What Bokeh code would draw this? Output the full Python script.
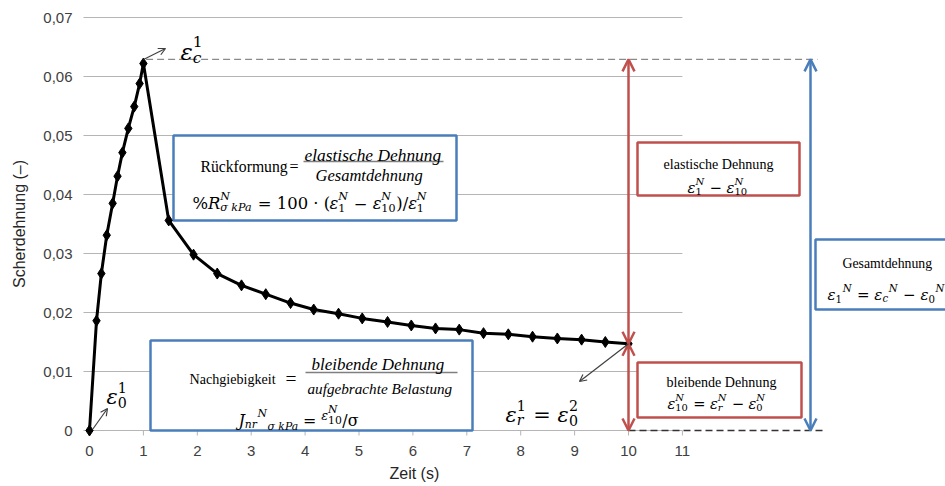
import glob, os
from bokeh.plotting import figure
from bokeh.models import (Range1d, FixedTicker, CustomJSTickFormatter, Label, Title,
                          Arrow, OpenHead, ColumnDataSource)
from bokeh.embed import file_html
from bokeh.resources import INLINE

# ---------------- data ----------------
time_load = [0, 0.13, 0.22, 0.32, 0.43, 0.52, 0.61, 0.72, 0.83, 0.93, 1.0]
strain_load = [0, 0.0186, 0.0266, 0.0331, 0.0385, 0.0431, 0.0471, 0.0512, 0.0549, 0.0588, 0.0622]
time_rec = [1.47, 1.93, 2.37, 2.82, 3.27, 3.73, 4.16, 4.62, 5.06, 5.53, 5.97,
            6.42, 6.86, 7.31, 7.77, 8.22, 8.68, 9.13, 9.57, 10.0]
strain_rec = [0.0356, 0.0298, 0.0266, 0.0246, 0.0231, 0.0216, 0.0205, 0.0198, 0.0190, 0.0184,
              0.0178, 0.0173, 0.0171, 0.0165, 0.0163, 0.0159, 0.0156, 0.0154, 0.0150, 0.0147]
x_ticks = list(range(0, 12))
y_ticks = [0, 0.01, 0.02, 0.03, 0.04, 0.05, 0.06, 0.07]
eps_c_level = 0.0629       # level of the dashed line at the creep peak
t_end = 10.0               # end of the recovery phase

times = time_load + time_rec
strains = strain_load + strain_rec
eps_10 = strains[-1]

# ---------------- geometry ----------------
W, H = 945, 486
XS, YS = 53.9, 5900.0     # px per unit
OX, OY = 89.0, 430.0      # pixel of data origin
FL, FT, FB = 81, 10, 437  # frame left / top / bottom in px

def px2x(px):
    return (px - OX) / XS

def py2y(py):
    return (OY - py) / YS

X0, X1 = px2x(FL), px2x(W)
Y0, Y1 = py2y(FB), py2y(FT)

BLUE = "#4A7EBB"
RED = "#C0504D"
GRID = "#B5B5B5"
MATH = "DejaVu Serif"
TXT = "Liberation Serif"

p = figure(width=W, height=H, output_backend="svg", toolbar_location=None,
           x_range=Range1d(X0, X1), y_range=Range1d(Y0, Y1),
           min_border_left=FL, min_border_right=0, min_border_top=FT,
           min_border_bottom=H - FB)
p.outline_line_color = None
p.xgrid.visible = False
p.ygrid.visible = False
p.background_fill_color = "white"
p.border_fill_color = "white"

# axes
p.xaxis.ticker = FixedTicker(ticks=x_ticks)
p.xaxis.axis_line_color = None
p.xaxis.major_tick_line_color = None
p.xaxis.minor_tick_line_color = None
p.xaxis.major_label_standoff = 2
p.xaxis.major_label_text_font = "Liberation Sans"
p.xaxis.major_label_text_font_size = "15px"
p.xaxis.major_label_text_color = "#404040"

p.add_layout(Title(text="Zeit (s)", align="left", offset=389 - FL,
                   text_font="Liberation Sans", text_font_size="16px",
                   text_font_style="normal", text_color="#262626", standoff=8), "below")

p.yaxis.ticker = FixedTicker(ticks=y_ticks)
p.yaxis.formatter = CustomJSTickFormatter(
    code="return tick == 0 ? '0' : tick.toFixed(2).replace('.', ',');")
p.yaxis.axis_line_color = None
p.yaxis.major_tick_line_color = None
p.yaxis.minor_tick_line_color = None
p.yaxis.major_label_standoff = 3
p.yaxis.major_label_text_font = "Liberation Sans"
p.yaxis.major_label_text_font_size = "15px"
p.yaxis.major_label_text_color = "#404040"
p.yaxis.axis_label = "Scherdehnung (–)"
p.yaxis.axis_label_text_font = "Liberation Sans"
p.yaxis.axis_label_text_font_size = "16px"
p.yaxis.axis_label_text_font_style = "normal"
p.yaxis.axis_label_text_color = "#262626"
p.yaxis.axis_label_standoff = 12

# manual gridlines (stop at x=11) and x tick marks
p.segment(x0=[px2x(83)] * len(y_ticks), x1=[x_ticks[-1]] * len(y_ticks),
          y0=y_ticks, y1=y_ticks, line_color=GRID, line_width=1)
p.segment(x0=x_ticks, x1=x_ticks, y0=[0] * len(x_ticks),
          y1=[-5 / YS] * len(x_ticks), line_color=GRID, line_width=1)

# dashed reference lines
p.segment(x0=[time_load[-1] + 0.05], x1=[px2x(817)], y0=[eps_c_level], y1=[eps_c_level],
          line_color="#8A8A8A", line_dash="7 4", line_width=1.3)
p.segment(x0=[t_end], x1=[px2x(826)], y0=[0], y1=[0],
          line_color="#333333", line_dash="7 4", line_width=1.5)

# boxes (white fill)
def box(l, r, t, b, color):
    p.quad(left=[px2x(l)], right=[px2x(r)], top=[py2y(t)], bottom=[py2y(b)],
           fill_color="white", line_color=color, line_width=2.5)

box(173, 456, 135, 220, BLUE)
box(150, 472, 340, 430, BLUE)
box(637, 799, 142, 195, RED)
box(637, 801, 362, 417, RED)
box(815, 990, 239, 309, BLUE)

# curve
src = ColumnDataSource(dict(t=times, s=strains))
p.line("t", "s", source=src, line_color="black", line_width=3)
p.scatter("t", "s", source=src, marker="diamond", size=11, fill_color="black",
          line_color="black")

# arrows
def arrow(x0, y0, x1, y1, color, width, size, both=False):
    a = Arrow(x_start=x0, y_start=y0, x_end=x1, y_end=y1,
              line_color=color, line_width=width,
              end=OpenHead(size=size, line_color=color, line_width=width),
              start=OpenHead(size=size, line_color=color, line_width=width) if both else None)
    p.add_layout(a)

arrow(t_end, eps_10, t_end, eps_c_level, RED, 2.5, 12, both=True)
arrow(t_end, eps_10, t_end, 0, RED, 2.5, 12, both=True)
arrow(px2x(810), 0, px2x(810), eps_c_level, BLUE, 2.5, 12, both=True)
arrow(px2x(143), py2y(59), px2x(165), py2y(48), "#404040", 1.2, 7)
arrow(px2x(92), py2y(429), px2x(107), py2y(408), "#404040", 1.2, 7)
arrow(t_end, eps_10, px2x(579), py2y(381), "#404040", 1.2, 7)

# ---------------- text layout helpers ----------------
FONT_FILES = {}
def _find(name):
    for root in ["/usr/share/fonts", "/usr/local/share/fonts",
                 os.path.expanduser("~/.fonts"), os.path.expanduser("~/.local/share/fonts")]:
        hits = glob.glob(os.path.join(root, "**", name), recursive=True)
        if hits:
            return hits[0]
    return None

FONT_FILES[(MATH, False)] = _find("DejaVuSerif.ttf")
FONT_FILES[(MATH, True)] = _find("DejaVuSerif-Italic.ttf")
FONT_FILES[(TXT, False)] = _find("LiberationSerif-Regular.ttf")
FONT_FILES[(TXT, True)] = _find("LiberationSerif-Italic.ttf")
APPROX = {MATH: 0.6, TXT: 0.47}
try:
    from PIL import ImageFont
    HAVE_PIL = True
except Exception:
    HAVE_PIL = False
_fc = {}

def tw(s, size, fam, it):
    if s == "":
        return 0.0
    path = FONT_FILES.get((fam, it))
    if HAVE_PIL and path:
        try:
            k = (path, max(1, round(size * 4)))
            if k not in _fc:
                _fc[k] = ImageFont.truetype(path, k[1])
            return _fc[k].getlength(s) / 4.0
        except Exception:
            pass
    return len(s) * size * APPROX[fam]

def T(s, it=False, sc=1.0, dy=0.0, fam=MATH):
    return ("t", s, it, sc, dy, fam)

def S(sub=None, sup=None, sit=False, pit=True, dy=0.0):
    return ("s", sub, sup, sit, pit, dy)

def layout(tokens, size):
    items, x = [], 0.0
    for tk in tokens:
        if tk[0] == "t":
            _, s, it, sc, dy, fam = tk
            fs = size * sc
            core = s.strip(" ")
            lead = s[:len(s) - len(s.lstrip(" "))]
            x_core = x + tw(lead, fs, fam, it)
            if core:
                items.append((x_core, core, it, fs, dy * size, fam))
            x += tw(s, fs, fam, it)
        else:
            _, sub, sup, sit, pit, dy = tk
            fs = size * 0.68
            w = 0.0
            if sub:
                items.append((x, sub, sit, fs, (-0.27 + dy) * size, MATH))
                w = max(w, tw(sub, fs, MATH, sit))
            if sup:
                items.append((x, sup, pit, fs, (0.42 + dy) * size, MATH))
                w = max(w, tw(sup, fs, MATH, pit))
            x += w + 0.04 * size
    return items, x

def draw_fit(tokens, xl, xr, base, color="black"):
    _, w = layout(tokens, 20.0)
    size = 20.0 * (xr - xl) / w
    items, w = layout(tokens, size)
    for (xo, s, it, fs, dy, fam) in items:
        p.add_layout(Label(x=px2x(xl + xo), y=py2y(base - dy), text=s,
                           text_font=fam, text_font_size=f"{fs:.1f}px",
                           text_font_style="italic" if it else "normal",
                           text_baseline="alphabetic", text_align="left",
                           text_color=color))

def txt(s, xl, xr, base, it=False, fam=TXT):
    draw_fit([T(s, it=it, fam=fam)], xl, xr, base)

def hline(x0, x1, y):
    p.segment(x0=[px2x(x0)], x1=[px2x(x1)], y0=[py2y(y)], y1=[py2y(y)],
              line_color="#7F7F7F", line_width=1.5)

E = "ε"

# Box 1: Rückformung
txt("Rückformung", 200, 287, 166)
txt("=", 289, 298, 166, fam=TXT)
txt("elastische Dehnung", 304, 441, 154, it=True)
hline(303, 443, 161)
txt("Gesamtdehnung", 315, 422, 175, it=True)
draw_fit([T("%"), T("R", True), S("σ kPa", "N", True, True), T(" = 100 · ("),
          T(E, True), S("1", "N"), T(" − "), T(E, True), S("10", "N"),
          T(")/"), T(E, True), S("1", "N")], 192, 427, 203)

# Box 2: Nachgiebigkeit
txt("Nachgiebigkeit", 189, 275, 378)
txt("=", 285, 296, 378, fam=TXT)
txt("bleibende Dehnung", 311, 444, 364, it=True)
hline(305, 457, 372)
txt("aufgebrachte Belastung", 307, 452, 388, it=True)
draw_fit([T("J", True), S("nr", None, True), S(None, "N"),
          T("σ kPa", True, sc=0.68, dy=-0.4), T(" = "),
          T(E, True, sc=0.8, dy=0.3), S("10", "N", dy=0.3), T("/σ")], 238, 358, 420)

# red boxes
txt("elastische Dehnung", 663, 773, 163)
draw_fit([T(E, True), S("1", "N"), T(" − "), T(E, True), S("10", "N")], 687, 747, 187)
txt("bleibende Dehnung", 666, 776, 381)
draw_fit([T(E, True), S("10", "N"), T(" = "), T(E, True), S("r", "N", True),
          T(" − "), T(E, True), S("0", "N")], 667, 765, 403)

# blue box Gesamtdehnung
txt("Gesamtdehnung", 842, 932, 263)
draw_fit([T(E, True), S("1", None), S(None, "N"), T(" = "), T(E, True),
          S("c", None, True), S(None, "N"), T(" − "), T(E, True),
          S("0", None), S(None, "N")], 827, 944, 294)

# strain point labels
draw_fit([T(E, True), S("c", "1", True, False)], 180, 203, 51)
draw_fit([T(E, True), S("0", "1", False, False)], 106, 127, 396)
draw_fit([T(E, True), S("r", "1", True, False), T(" = "), T(E, True),
          S("0", "2", False, False)], 505, 578, 414)

open("out.html", "w").write(file_html(p, INLINE))
